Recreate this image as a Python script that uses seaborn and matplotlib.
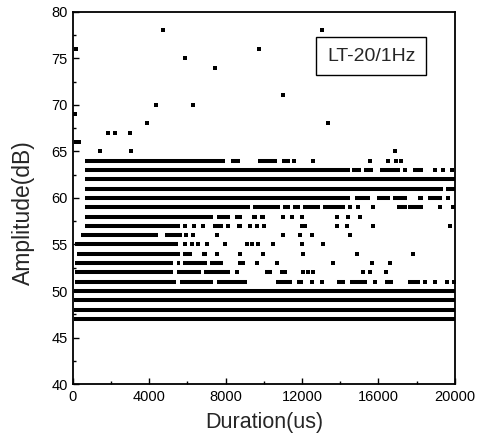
import numpy as np
import pandas as pd
import matplotlib
matplotlib.use("Agg")
import matplotlib.pyplot as plt
from matplotlib.ticker import MultipleLocator
import seaborn as sns

# ---------------- data ----------------
# Dense horizontal bands of hits: amplitude (dB), start and end duration (us)
seg_amp = [
    64, 64, 64, 64,
    63, 63, 63, 63, 63,
    62,
    61, 61,
    60, 60, 60, 60, 60, 60,
    59, 59, 59, 59, 59, 59, 59, 59, 59,
    58, 58, 58, 58, 58,
    57, 57, 57,
    56, 56,
    55,
    54, 54, 54,
    53, 53, 53, 53,
    52, 52, 52, 52,
    51, 51, 51, 51, 51, 51, 51, 51, 51,
    50, 49, 48, 47,
]
seg_start = [
    630, 8300, 9700, 10950,
    630, 14600, 15250, 16070, 17800,
    630,
    630, 19550,
    630, 14760, 15920, 16750, 18060, 18590,
    630, 9450, 11000, 11520, 12040, 13090, 14400, 16960, 17560,
    630, 7540, 8480, 9370, 9790,
    630, 7330, 8590,
    450, 4820,
    100,
    200, 5760, 6750,
    100, 5440, 5760, 7170,
    100, 5440, 6850, 10050,
    100, 5600, 7540, 10660, 11730, 13820, 14500, 16330, 17540,
    50, 50, 50, 50,
]
seg_end = [
    7960, 8750, 10700, 11350,
    14500, 15100, 15700, 17120, 18320,
    20000,
    19400, 20000,
    14500, 15550, 16600, 17490, 18320, 19320,
    9300, 10840, 11360, 11880, 12930, 14240, 14600, 17490, 18320,
    7330, 8220, 8850, 9630, 10050,
    5600, 7850, 8850,
    4450, 5700,
    5500,
    5600, 6230, 7020,
    5240, 5600, 7020, 7850,
    5240, 6700, 8220, 10420,
    5400, 7330, 9110, 11470, 12040, 14240, 15390, 16750, 18170,
    20000, 20000, 20000, 20000,
]

# Isolated hits
dot_dur = [
    150, 4700, 5860, 7430, 9740, 13070,
    11010, 4350, 6270, 100, 3860, 13370,
    1820, 2200, 2980, 150, 300, 1410, 3020, 16860,
    11600, 12550, 15550, 16500, 16900, 17200,
    17380, 18950, 19370, 19840,
    19630,
    14920, 15700, 19210, 19900,
    11000, 11470, 11990, 13820, 14400, 15030,
    5860, 6330, 6800, 8120, 9270, 9630, 10000, 12000, 12150, 13820, 14350, 15700, 19740,
    5900, 6280, 7540, 11000, 11880, 12510, 14500,
    5860, 6230, 6540, 7020, 7960, 9110, 9400, 9690, 10470, 12000, 13090,
    7540, 8740, 9950, 12040, 14870, 17800,
    8740, 8900, 9630, 10700, 13610, 15650, 16600,
    8590, 10940, 11100, 12040, 12300, 12570, 15180, 15550, 16390,
    12510, 13040, 15810, 18430, 18950, 19580, 19950,
]
dot_amp = [
    76, 78, 75, 74, 76, 78,
    71, 70, 70, 69, 68, 68,
    67, 67, 67, 66, 66, 65, 65, 65,
    64, 64, 64, 64, 64, 64,
    63, 63, 63, 63,
    60,
    59, 59, 59, 59,
    58, 58, 58, 58, 58, 58,
    57, 57, 57, 57, 57, 57, 57, 57, 57, 57, 57, 57, 57,
    56, 56, 56, 56, 56, 56, 56,
    55, 55, 55, 55, 55, 55, 55, 55, 55, 55, 55,
    54, 54, 54, 54, 54, 54,
    53, 53, 53, 53, 53, 53, 53,
    52, 52, 52, 52, 52, 52, 52, 52, 52,
    51, 51, 51, 51, 51, 51, 51,
]

x_ticks = [0, 4000, 8000, 12000, 16000, 20000]
y_ticks = [40, 45, 50, 55, 60, 65, 70, 75, 80]
label_text = "LT-20/1Hz"

# ---------------- figure ----------------
sns.set_theme(style="ticks")
plt.rcParams["font.family"] = ["Liberation Sans", "DejaVu Sans"]
plt.rcParams["lines.solid_capstyle"] = "butt"

fig = plt.figure(figsize=(4.89, 4.42), dpi=100)
ax = fig.add_axes([0.149, 0.131, 0.781, 0.8425])

seg_rows = []
for i, (a, s, e) in enumerate(zip(seg_amp, seg_start, seg_end)):
    seg_rows.append({"seg": i, "Duration": s, "Amplitude": a})
    seg_rows.append({"seg": i, "Duration": e, "Amplitude": a})
seg_df = pd.DataFrame(seg_rows)

sns.lineplot(data=seg_df, x="Duration", y="Amplitude", units="seg",
             estimator=None, sort=False, color="black", linewidth=2.9,
             ax=ax, legend=False)

dot_df = pd.DataFrame({"Duration": dot_dur, "Amplitude": dot_amp})
sns.scatterplot(data=dot_df, x="Duration", y="Amplitude", marker="s",
                s=9, color="black", linewidth=0, ax=ax, legend=False)

ax.set_xlim(0, 20000)
ax.set_ylim(40, 80)
ax.set_xticks(x_ticks)
ax.set_yticks(y_ticks)
ax.xaxis.set_minor_locator(MultipleLocator(2000))
ax.yaxis.set_minor_locator(MultipleLocator(2.5))
ax.tick_params(which="both", direction="in", colors="black", labelsize=10.5,
               width=1.0)
ax.tick_params(which="major", length=4.5)
ax.tick_params(which="minor", length=2.5)
ax.tick_params(axis="x", pad=4)

for sp in ax.spines.values():
    sp.set_visible(True)
    sp.set_linewidth(1.3)
    sp.set_color("black")

ax.set_xlabel("Duration(us)", fontsize=15.5, labelpad=6)
ax.set_ylabel("Amplitude(dB)", fontsize=16.5, labelpad=6)
ax.yaxis.set_label_coords(-0.10, 0.46)

ax.text(0.781, 0.881, label_text, transform=ax.transAxes, fontsize=14,
        ha="center", va="center",
        bbox=dict(boxstyle="square,pad=0.55", facecolor="white",
                  edgecolor="black", linewidth=1.0))

fig.savefig("out.png", dpi=100)
